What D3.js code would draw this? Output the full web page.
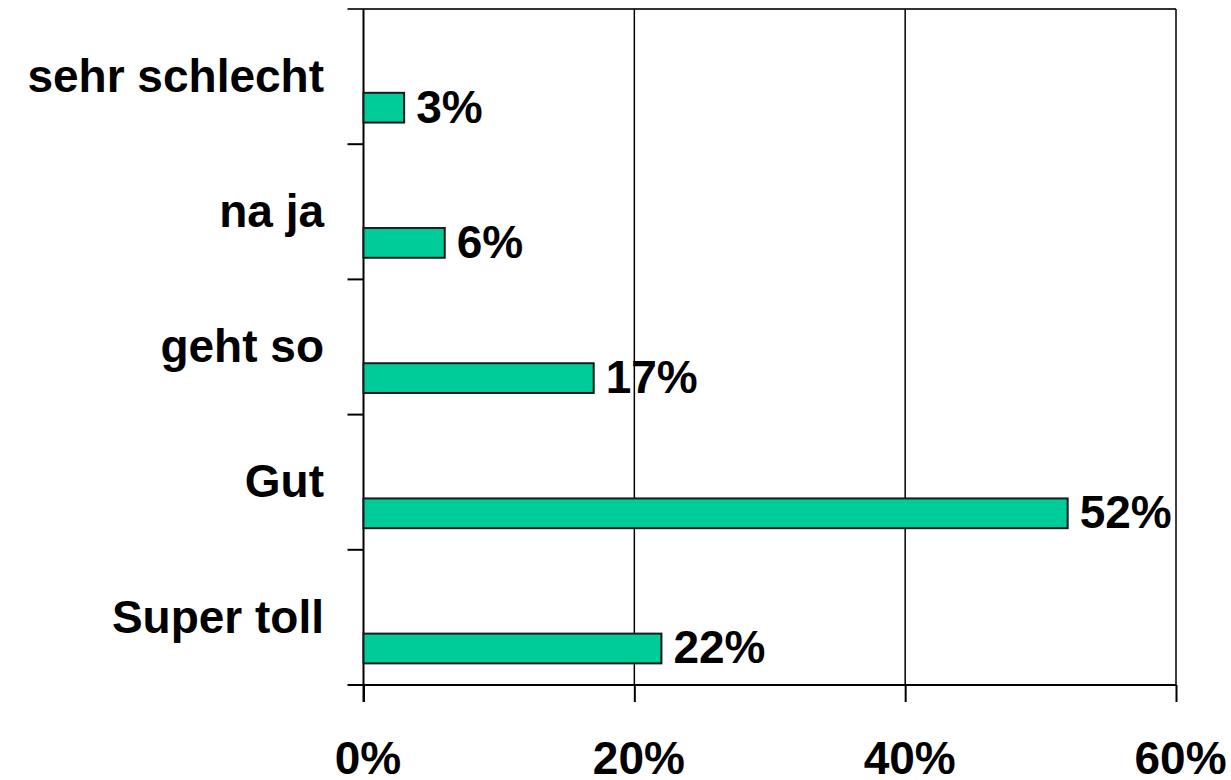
<!DOCTYPE html>
<html>
<head>
<meta charset="utf-8">
<script src="https://cdn.jsdelivr.net/npm/d3@7"></script>
<style>
  body { margin: 0; background: #fff; }
  text { font-family: "Liberation Sans", Arial, sans-serif; font-weight: bold; }
</style>
</head>
<body>
<div id="chart"></div>
<script>
// data
const categories = ['sehr schlecht', 'na ja', 'geht so', 'Gut', 'Super toll'];
const values = [3, 6, 17, 52, 22];
const xTicks = [0, 20, 40, 60];

const W = 1231, H = 780;
const margin = { top: 9, right: 55, bottom: 95, left: 363.5 };

const svg = d3.select('#chart')
  .append('svg')
  .attr('width', W)
  .attr('height', H);

const x = d3.scaleLinear()
  .domain([0, 60])
  .range([margin.left, W - margin.right]);

const y = d3.scaleBand()
  .domain(categories)
  .range([margin.top, H - margin.bottom]);

const bw = y.bandwidth();
const barOff = bw * 0.62, barH = bw * 0.22;

// top border
svg.append('line')
  .attr('x1', margin.left - 16).attr('x2', x(60))
  .attr('y1', margin.top).attr('y2', margin.top)
  .attr('stroke', '#333').attr('stroke-width', 2);

// vertical grid lines + ticks below axis
svg.selectAll('line.grid')
  .data(xTicks.slice(1))
  .join('line')
  .attr('class', 'grid')
  .attr('x1', d => x(d)).attr('x2', d => x(d))
  .attr('y1', margin.top).attr('y2', H - margin.bottom)
  .attr('stroke', '#000').attr('stroke-width', 1.5);

const xAxis = d3.axisBottom(x)
  .tickValues(xTicks)
  .tickSize(17)
  .tickFormat(d => d + '%');

const gx = svg.append('g')
  .attr('transform', `translate(0,${H - margin.bottom})`)
  .call(xAxis);
gx.select('.domain').remove();
gx.selectAll('.tick line').attr('stroke', '#000').attr('stroke-width', 2);
gx.selectAll('.tick text')
  .attr('fill', '#000')
  .attr('font-size', 46)
  .attr('dx', 4)
  .attr('y', 0)
  .attr('dy', 0)
  .attr('transform', 'translate(0,89)');

// x axis line
svg.append('line')
  .attr('x1', margin.left - 16).attr('x2', x(60))
  .attr('y1', H - margin.bottom).attr('y2', H - margin.bottom)
  .attr('stroke', '#000').attr('stroke-width', 2);

// y axis line
svg.append('line')
  .attr('x1', margin.left).attr('x2', margin.left)
  .attr('y1', margin.top).attr('y2', H - margin.bottom + 17)
  .attr('stroke', '#000').attr('stroke-width', 2);

// category boundary ticks
const bounds = categories.map(c => y(c)).concat([y.range()[1]]);
svg.selectAll('line.ytick')
  .data(bounds.slice(1, -1))
  .join('line')
  .attr('class', 'ytick')
  .attr('x1', margin.left - 16).attr('x2', margin.left)
  .attr('y1', d => d).attr('y2', d => d)
  .attr('stroke', '#000').attr('stroke-width', 2);

// bars
svg.selectAll('rect.bar')
  .data(values)
  .join('rect')
  .attr('class', 'bar')
  .attr('x', x(0))
  .attr('y', (d, i) => y(categories[i]) + barOff)
  .attr('width', d => x(d) - x(0))
  .attr('height', barH)
  .attr('fill', '#00CC99')
  .attr('stroke', '#1a1a1a')
  .attr('stroke-width', 2);

// value labels
svg.selectAll('text.val')
  .data(values)
  .join('text')
  .attr('class', 'val')
  .attr('x', d => x(d) + 12)
  .attr('y', (d, i) => y(categories[i]) + barOff + barH)
  .attr('font-size', 46)
  .text(d => d + '%');

// category labels
svg.selectAll('text.cat')
  .data(categories)
  .join('text')
  .attr('class', 'cat')
  .attr('x', 324)
  .attr('y', d => y(d) + barOff - 1)
  .attr('text-anchor', 'end')
  .attr('font-size', 46)
  .text(d => d);
</script>
</body>
</html>
